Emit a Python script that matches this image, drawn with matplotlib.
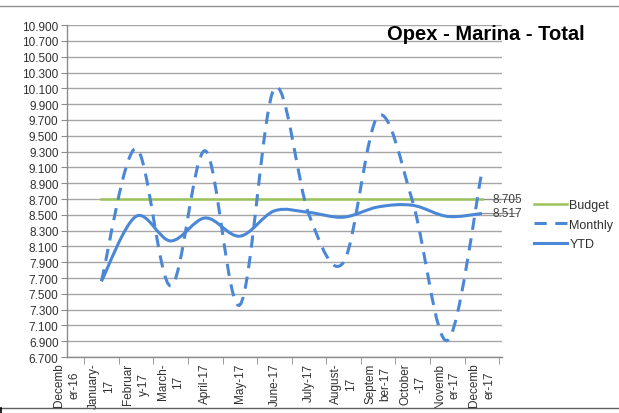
import numpy as np
import matplotlib
matplotlib.use('Agg')
import matplotlib.pyplot as plt
from matplotlib.path import Path
from matplotlib.patches import PathPatch
from matplotlib.lines import Line2D

plt.rcParams['font.family'] = ['Liberation Sans', 'DejaVu Sans']

months = ['Decemb\ner-16', 'January-\n17', 'Februar\ny-17', 'March-\n17', 'April-17',
          'May-17', 'June-17', 'July-17', 'August-\n17', 'Septem\nber-17',
          'October\n-17', 'Novemb\ner-17', 'Decemb\ner-17']
# values for January-17 .. December-17
monthly = [7.66, 9.34, 7.60, 9.31, 7.36, 10.10, 8.50, 7.90, 9.75, 8.66, 6.91, 9.05]
ytd = [7.66, 8.48, 8.17, 8.46, 8.23, 8.55, 8.53, 8.47, 8.60, 8.62, 8.48, 8.517]
budget = [8.705] * 12

blue = '#4a87d6'
green = '#9bc35a'


def smooth_path(xs, ys):
    # bezier smoothing like excel "smoothed line"
    pts = np.column_stack([xs, ys])
    n = len(pts)
    verts = [pts[0]]
    codes = [Path.MOVETO]
    for i in range(n - 1):
        p0 = pts[i - 1] if i > 0 else pts[i]
        p1 = pts[i]
        p2 = pts[i + 1]
        p3 = pts[i + 2] if i + 2 < n else pts[i + 1]
        c1 = p1 + (p2 - p0) / 6.0
        c2 = p2 - (p3 - p1) / 6.0
        verts += [c1, c2, p2]
        codes += [Path.CURVE4] * 3
    return Path(verts, codes)


fig = plt.figure(figsize=(6.19, 4.14), dpi=100)
ax = fig.add_axes([0.108, 0.135, 0.703, 0.802])

x = np.arange(1, 13)

ax.plot(x, budget, color=green, lw=1.8, zorder=3)
ax.add_patch(PathPatch(smooth_path(x, monthly), fill=False, edgecolor=blue,
                       lw=2.2, linestyle=(0, (4, 2.8)), zorder=4))
ax.add_patch(PathPatch(smooth_path(x, ytd), fill=False, edgecolor=blue,
                       lw=2.2, zorder=5))

# data labels at the end
for val in [budget[-1], ytd[-1]]:
    ax.plot([x[-1], x[-1] + 1.0], [val, val], color='#909090', lw=0.8,
            clip_on=False, zorder=2)
    ax.text(x[-1] + 0.3, val, '%.3f' % val, fontsize=8.5, color='#404040',
            va='center', ha='left', clip_on=False, zorder=6)

ax.set_xlim(0, 12.58)
ax.set_ylim(6.7, 10.9)
ax.set_yticks(np.arange(6.7, 10.91, 0.2))
ax.set_yticklabels(['%.3f' % v for v in np.arange(6.7, 10.91, 0.2)])
ax.set_xticks(np.arange(13))
ax.set_xticklabels(months, rotation=90, ha='center', va='top',
                   multialignment='center', linespacing=1.35)
ax.set_xticks(np.arange(0.5, 13, 1.0), minor=True)
ax.tick_params(axis='x', which='major', length=0, pad=4, labelsize=8.5, labelcolor='#303030')
ax.tick_params(axis='x', which='minor', length=5, color='#8c8c8c', direction='out')
ax.tick_params(axis='y', length=4, color='#8c8c8c', labelsize=8.5, labelcolor='#303030', pad=2)
ax.grid(axis='y', color='#a6a6a6', lw=1.0)
ax.set_axisbelow(True)
for s in ['top', 'right']:
    ax.spines[s].set_visible(False)
for s in ['left', 'bottom']:
    ax.spines[s].set_color('#8c8c8c')
    ax.spines[s].set_linewidth(1.0)

fig.text(0.785, 0.917, 'Opex - Marina - Total', fontsize=14.5, fontweight='bold',
         ha='center', va='center')

handles = [Line2D([], [], color=green, lw=1.8),
           Line2D([], [], color=blue, lw=2.2, linestyle=(0, (4, 2.8))),
           Line2D([], [], color=blue, lw=2.2)]
fig.legend(handles, ['Budget', 'Monthly', 'YTD'], loc='center left',
           bbox_to_anchor=(0.845, 0.455), frameon=False, fontsize=9,
           handlelength=2.6, handletextpad=0.2, labelspacing=0.62,
           labelcolor='#303030')

# frame lines of the screenshot
fig.add_artist(Line2D([0, 1], [0.983, 0.983], color='#909090', lw=1.0))
fig.add_artist(Line2D([0, 1], [0.012, 0.012], color='#606060', lw=1.0))
fig.add_artist(Line2D([0.002, 0.002], [0, 0.012], color='black', lw=1.2))

fig.savefig('out.png', dpi=100)
